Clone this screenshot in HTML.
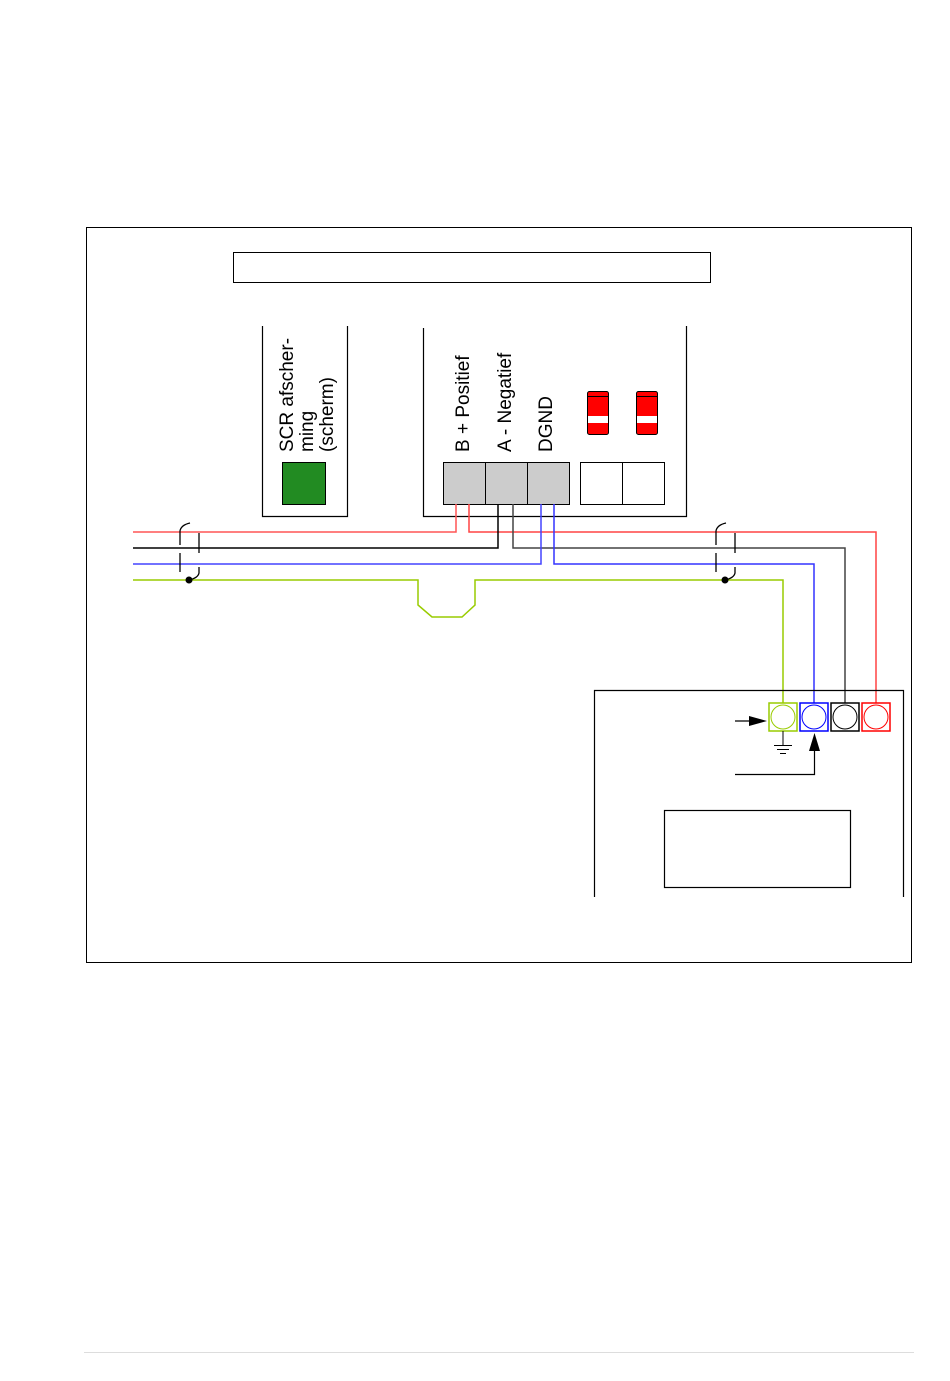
<!DOCTYPE html>
<html><head><style>
html,body{margin:0;padding:0;background:#fff;}
svg{display:block;}
text{font-family:"Liberation Sans",sans-serif;font-size:19px;fill:#000;}
</style></head><body>
<svg width="950" height="1381" viewBox="0 0 950 1381" xmlns="http://www.w3.org/2000/svg">
<rect x="86.5" y="227.5" width="825" height="735" fill="none" stroke="#000" stroke-width="1"/>
<rect x="233.5" y="252.5" width="477" height="30" fill="none" stroke="#000" stroke-width="1"/>
<path d="M262.5 326V516.5H347.5V326" fill="none" stroke="#000" stroke-width="1.2"/>
<rect x="282.5" y="462.5" width="43" height="42" fill="#228b22" stroke="#000"/>
<text transform="translate(293,452) rotate(-90)">SCR afscher-</text>
<text transform="translate(313,452) rotate(-90)">ming</text>
<text transform="translate(333,452) rotate(-90)">(scherm)</text>
<path d="M423.5 328V516.5H686.5V326" fill="none" stroke="#000" stroke-width="1.2"/>
<text transform="translate(469,452) rotate(-90)">B + Positief</text>
<text transform="translate(511,452) rotate(-90)">A - Negatief</text>
<text transform="translate(552,452) rotate(-90)">DGND</text>
<rect x="443.5" y="462.5" width="126" height="42" fill="#ccc" stroke="#000"/>
<line x1="485.5" y1="462" x2="485.5" y2="504" stroke="#000"/>
<line x1="527.5" y1="462" x2="527.5" y2="504" stroke="#000"/>
<rect x="580.5" y="462.5" width="84" height="42" fill="#fff" stroke="#000"/>
<line x1="622.5" y1="462" x2="622.5" y2="504" stroke="#000"/>
<g stroke="#000" stroke-width="1">
<rect x="587.5" y="391.5" width="21" height="43" rx="2" fill="#f00"/>
<rect x="588" y="416" width="20" height="7" fill="#fff" stroke="none"/>
<line x1="588" y1="396.5" x2="608" y2="396.5"/>
<rect x="636.5" y="391.5" width="21" height="43" rx="2" fill="#f00"/>
<rect x="637" y="416" width="20" height="7" fill="#fff" stroke="none"/>
<line x1="637" y1="396.5" x2="657" y2="396.5"/>
</g>
<g fill="none" stroke-width="1.5">
<path d="M133 532H456V504" stroke="#f55"/>
<path d="M469 504V532H876V703" stroke="#f44"/>
<path d="M133 548H498V504" stroke="#000"/>
<path d="M513 504V548H845V703" stroke="#444"/>
<path d="M133 564H541V504" stroke="#44f"/>
<path d="M554 504V564H814V703" stroke="#33f"/>
<path d="M133 580H418V605L432 617H462L475 605V580H783V703" stroke="#9c0"/>
</g>
<g fill="none" stroke="#000" stroke-width="1.3">
<path d="M180 545V531Q181 525 190 523"/>
<path d="M180 553V572"/>
<path d="M199 533V553"/>
<path d="M199 567V573Q198 578 189 580"/>
<path d="M716 545V531Q717 525 726 523"/>
<path d="M716 553V572"/>
<path d="M735 533V553"/>
<path d="M735 567V573Q734 578 725 580"/>
</g>
<circle cx="189" cy="580" r="3.5" fill="#000"/>
<circle cx="725" cy="580" r="3.5" fill="#000"/>
<path d="M594.5 897V690.5H903.5V897" fill="none" stroke="#000" stroke-width="1.2"/>
<g stroke-width="1.5" fill="#fff">
<rect x="769" y="703" width="28" height="28" stroke="#9c0"/>
<circle cx="783" cy="717" r="12" stroke="#9c0" stroke-width="1"/>
<rect x="800" y="703" width="28" height="28" stroke="#00f"/>
<circle cx="814" cy="717" r="12" stroke="#00f" stroke-width="1"/>
<rect x="831" y="703" width="28" height="28" stroke="#000"/>
<circle cx="845" cy="717" r="12" stroke="#000" stroke-width="1"/>
<rect x="862" y="703" width="28" height="28" stroke="#f00"/>
<circle cx="876" cy="717" r="12" stroke="#f00" stroke-width="1"/>
</g>
<line x1="735" y1="721" x2="752" y2="721" stroke="#000" stroke-width="1.2"/>
<polygon points="767,721 749,716 749,726" fill="#000"/>
<path d="M783 731V745M774 745.5H792M777 749.5H789M780 753.5H786" stroke="#000" stroke-width="1" fill="none"/>
<path d="M735 774.5H814.5V748" stroke="#000" stroke-width="1.2" fill="none"/>
<polygon points="814.5,733 809,751 820,751" fill="#000"/>
<rect x="664.5" y="810.5" width="186" height="77" fill="none" stroke="#000" stroke-width="1.2"/>
<line x1="84" y1="1352.5" x2="914" y2="1352.5" stroke="#ddd" stroke-width="1"/>
</svg>
</body></html>
